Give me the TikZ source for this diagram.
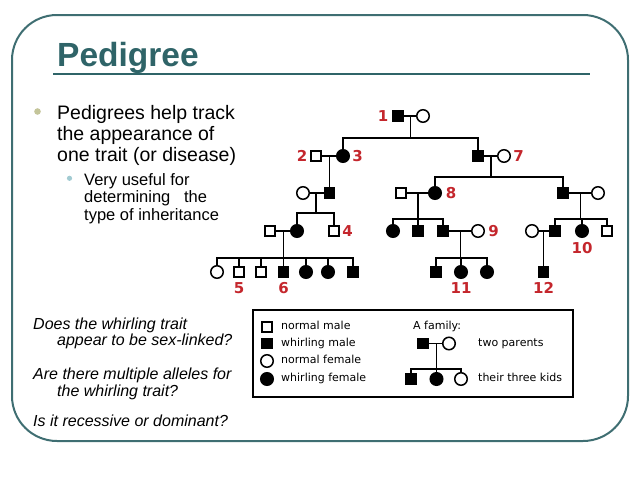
\documentclass[tikz,border=0pt]{standalone}
\usepackage{fontspec}
\setmainfont{Liberation Sans}
\newfontfamily\legendfont{DejaVu Sans}
\definecolor{slideteal}{HTML}{2F6468}
\definecolor{frameteal}{HTML}{3F6E72}
\definecolor{dotolive}{HTML}{C4C59A}
\definecolor{dotblue}{HTML}{A2CBD2}
\definecolor{tagred}{HTML}{C4262C}

\tikzset{
    male/.style={draw, rectangle, minimum size=10pt, inner sep=0pt, line width=1.5pt},
    female/.style={draw, circle, minimum size=12.5pt, inner sep=0pt, line width=1.5pt},
    whirl/.style={fill=black},
    link/.style={line width=1.6pt},
    tag/.style={text=tagred, inner sep=0pt, font=\legendfont\bfseries\fontsize{15}{15}\selectfont},
    keytext/.style={anchor=mid west, inner sep=0pt, font=\legendfont\fontsize{11}{12}\selectfont}
}

\begin{document}
\begin{tikzpicture}[x=1pt, y=-1pt]

    \useasboundingbox (0, 0) rectangle (638, 479);

    % Slide frame and title
    \draw[frameteal, line width=2pt, rounded corners=45pt] (12, 15) rectangle (628, 441);
    \node[anchor=base west, inner sep=0pt, text=slideteal,
        font=\bfseries\fontsize{33.5}{36}\selectfont] (title) at (57, 66) {Pedigree};
    \draw[slideteal, line width=2.2pt] (53, 74) -- (590, 74);

    % Bullet text
    \fill[dotolive] (37.5, 111.5) circle (3.3);
    \foreach \t [count=\i] in {Pedigrees help track, the appearance of, {one trait (or disease)}}{
        \node[anchor=base west, inner sep=0pt, font=\fontsize{19.5}{21}\selectfont]
            (main\i) at (57, 98.3 + 21.2*\i) {\t};
    }
    \fill[dotblue] (69.5, 178.3) circle (2.6);
    \foreach \t [count=\i] in {Very useful for, determining~~ the, type of inheritance}{
        \node[anchor=base west, inner sep=0pt, font=\fontsize{16.5}{18}\selectfont]
            (sub\i) at (84, 167.3 + 17.7*\i) {\t};
    }

    % Questions
    \node[anchor=base west, inner sep=0pt, font=\itshape\fontsize{16}{17}\selectfont] (q1a) at (33, 329.3) {Does the whirling trait};
    \node[anchor=base west, inner sep=0pt, font=\itshape\fontsize{16}{17}\selectfont] (q1b) at (57, 345.7) {appear to be sex-linked?};
    \node[anchor=base west, inner sep=0pt, font=\itshape\fontsize{16}{17}\selectfont] (q2a) at (33, 379) {Are there multiple alleles for};
    \node[anchor=base west, inner sep=0pt, font=\itshape\fontsize{16}{17}\selectfont] (q2b) at (57, 396.7) {the whirling trait?};
    \node[anchor=base west, inner sep=0pt, font=\itshape\fontsize{16}{17}\selectfont] (q3) at (33, 426.7) {Is it recessive or dominant?};

    % Generation I
    \node[male, whirl] (a1) at (398, 116) {};
    \node[female] (a2) at (423, 116) {};
    \draw[link] (a1) -- (a2);
    \coordinate (m1) at (410.5, 116);
    \coordinate (s1) at (410.5, 138);
    \draw[link] (m1) -- (s1);

    % Generation II
    \node[male] (b2) at (316, 156) {};
    \node[female, whirl] (b3) at (343, 156) {};
    \node[male, whirl] (b7) at (478, 156) {};
    \node[female] (b8) at (504, 156) {};
    \draw[link] (b3) |- (s1);
    \draw[link] (b7) |- (s1);
    \draw[link] (b2) -- (b3);
    \draw[link] (b7) -- (b8);
    \coordinate (m2) at (329.5, 156);
    \coordinate (m3) at (491, 156);
    \coordinate (s3) at (491, 177);
    \draw[link] (m3) -- (s3);

    % Generation III
    \node[female] (c0) at (303, 193) {};
    \node[male, whirl] (c1) at (329.5, 193) {};
    \node[male] (c7) at (401, 193) {};
    \node[female, whirl] (c8) at (435, 193) {};
    \node[male, whirl] (c9) at (563, 193) {};
    \node[female] (c10) at (598, 193) {};
    \draw[link] (m2) -- (c1);
    \draw[link] (c8) |- (s3);
    \draw[link] (c9) |- (s3);
    \draw[link] (c0) -- (c1);
    \draw[link] (c7) -- (c8);
    \draw[link] (c9) -- (c10);
    \coordinate (m4) at (316, 193);
    \coordinate (s4) at (316, 213);
    \coordinate (m5) at (418, 193);
    \coordinate (s5) at (418, 219);
    \coordinate (m6) at (580.5, 193);
    \coordinate (s6) at (580.5, 219);
    \draw[link] (m4) -- (s4);
    \draw[link] (m5) -- (s5);
    \draw[link] (m6) -- (s6);

    % Generation IV
    \node[male] (d0) at (270, 231) {};
    \node[female, whirl] (d1) at (297, 231) {};
    \node[male] (d4) at (334, 231) {};
    \node[female, whirl] (d5) at (393, 231) {};
    \node[male, whirl] (d6) at (418, 231) {};
    \node[male, whirl] (d7) at (443, 231) {};
    \node[female] (d8) at (478, 231) {};
    \node[female] (d9) at (532, 231) {};
    \node[male, whirl] (d10) at (555, 231) {};
    \node[female, whirl] (d11) at (582, 231) {};
    \node[male] (d12) at (607, 231) {};
    \foreach \k in {d1, d4}{
        \draw[link] (\k) |- (s4);
    }
    \foreach \k in {d5, d6, d7}{
        \draw[link] (\k) |- (s5);
    }
    \foreach \k in {d10, d11, d12}{
        \draw[link] (\k) |- (s6);
    }
    \draw[link] (d0) -- (d1);
    \draw[link] (d7) -- (d8);
    \draw[link] (d9) -- (d10);
    \coordinate (m7) at (283.5, 231);
    \coordinate (s7) at (283.5, 258);
    \coordinate (m8) at (460.5, 231);
    \coordinate (s8) at (460.5, 258);
    \coordinate (m9) at (543.5, 231);
    \draw[link] (m7) -- (s7);
    \draw[link] (m8) -- (s8);

    % Generation V
    \node[female] (e1) at (217, 272) {};
    \node[male] (e2) at (239, 272) {};
    \node[male] (e3) at (261, 272) {};
    \node[male, whirl] (e4) at (283.5, 272) {};
    \node[female, whirl] (e5) at (306, 272) {};
    \node[female, whirl] (e6) at (328, 272) {};
    \node[male, whirl] (e7) at (353, 272) {};
    \node[male, whirl] (e8) at (436, 272) {};
    \node[female, whirl] (e9) at (461, 272) {};
    \node[female, whirl] (e10) at (487, 272) {};
    \node[male, whirl] (e11) at (543.5, 272) {};
    \foreach \k in {e1, e2, e3, e4, e5, e6, e7}{
        \draw[link] (\k) |- (s7);
    }
    \foreach \k in {e8, e9, e10}{
        \draw[link] (\k) |- (s8);
    }
    \draw[link] (m9) -- (e11);

    % Numbered tags
    \node[tag] (t1) at (383, 116) {1};
    \node[tag] (t2) at (302, 156) {2};
    \node[tag] (t3) at (357.5, 156) {3};
    \node[tag] (t4) at (347.5, 231) {4};
    \node[tag] (t5) at (239, 288) {5};
    \node[tag] (t6) at (283.5, 288) {6};
    \node[tag] (t7) at (518.5, 156) {7};
    \node[tag] (t8) at (451, 193) {8};
    \node[tag] (t9) at (493.5, 231) {9};
    \node[tag] (t10) at (582, 248.5) {10};
    \node[tag] (t11) at (461, 288) {11};
    \node[tag] (t12) at (543.5, 288) {12};

    % Legend
    \draw[line width=1.5pt] (253, 310) rectangle (573, 397);
    \node[male] (k1) at (267, 327) {};
    \node[male, whirl] (k2) at (267, 343.5) {};
    \node[female] (k3) at (267, 361) {};
    \node[female, whirl] (k4) at (267, 379) {};
    \node[keytext] (k1t) at (281, 327) {normal male};
    \node[keytext] (k2t) at (281, 343.5) {whirling male};
    \node[keytext] (k3t) at (281, 361) {normal female};
    \node[keytext] (k4t) at (281, 379) {whirling female};

    \node[keytext] (fam) at (413, 327) {A family:};
    \node[male, whirl] (f1) at (423, 343.5) {};
    \node[female] (f2) at (449, 343.5) {};
    \draw[link] (f1) -- (f2);
    \coordinate (mf) at (436.5, 343.5);
    \coordinate (sf) at (436.5, 369);
    \draw[link] (mf) -- (sf);
    \node[male, whirl] (g1) at (411, 379) {};
    \node[female, whirl] (g2) at (436.5, 379) {};
    \node[female] (g3) at (461, 379) {};
    \foreach \k in {g1, g2, g3}{
        \draw[link] (\k) |- (sf);
    }
    \node[keytext] (ft) at (478, 343.5) {two parents};
    \node[keytext] (kt) at (478, 379) {their three kids};

\end{tikzpicture}
\end{document}
